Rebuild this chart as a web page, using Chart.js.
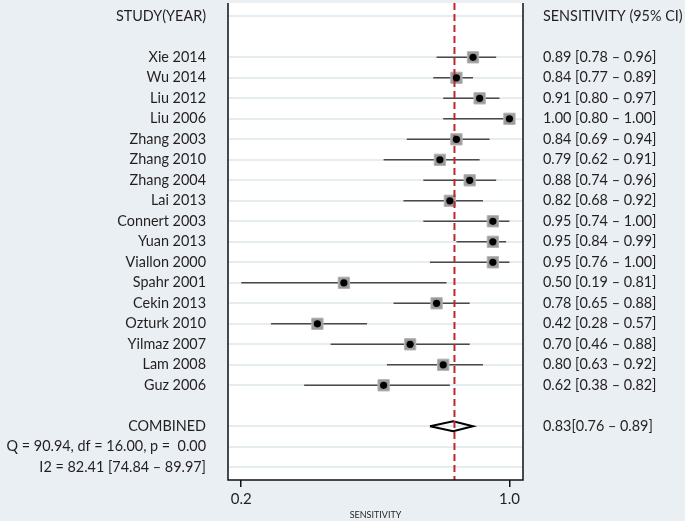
<!DOCTYPE html>
<html>
<head>
<meta charset="utf-8">
<script src="https://cdn.jsdelivr.net/npm/chart.js@4.4.0/dist/chart.umd.min.js"></script>
<style>
  html, body { margin: 0; padding: 0; background: #e9eff2; }
  #wrap { width: 685px; height: 521px; }
</style>
</head>
<body>
<div id="wrap"><canvas id="forest" width="685" height="521"></canvas></div>
<script>
// study data
const studies = ['Xie 2014', 'Wu 2014', 'Liu 2012', 'Liu 2006', 'Zhang 2003', 'Zhang 2010', 'Zhang 2004',
  'Lai 2013', 'Connert 2003', 'Yuan 2013', 'Viallon 2000', 'Spahr 2001', 'Cekin 2013', 'Ozturk 2010',
  'Yilmaz 2007', 'Lam 2008', 'Guz 2006'];
const sens = [0.89, 0.84, 0.91, 1.00, 0.84, 0.79, 0.88, 0.82, 0.95, 0.95, 0.95, 0.50, 0.78, 0.42, 0.70, 0.80, 0.62];
const lower = [0.78, 0.77, 0.80, 0.80, 0.69, 0.62, 0.74, 0.68, 0.74, 0.84, 0.76, 0.19, 0.65, 0.28, 0.46, 0.63, 0.38];
const upper = [0.96, 0.89, 0.97, 1.00, 0.94, 0.91, 0.96, 0.92, 1.00, 0.99, 1.00, 0.81, 0.88, 0.57, 0.88, 0.92, 0.82];

const combined = { est: 0.83, lo: 0.76, hi: 0.89, line: 0.834 };
const statsText = ['Q = 90.94, df = 16.00, p =  0.00', 'I2 = 82.41 [74.84 \u2013 89.97]'];
const tickValues = [0.19, 1.0];
const tickLabels = ['0.2', '1.0'];

// row positions (index units)
const headerRow = -2;
const combinedRow = 18;
const gridRows = [headerRow, ...studies.map((s, i) => i), combinedRow, 19, 20];

const FONT = 'Lato, "Open Sans", sans-serif';
const TEXT = '#231f20';

const fmt = v => v.toFixed(2);

const ciSets = studies.map((s, i) => ({
  type: 'line',
  data: [{ x: lower[i], y: i }, { x: upper[i], y: i }],
  borderColor: '#4a4a4a',
  borderWidth: 1.5,
  pointRadius: 0,
  order: 5
}));

const dh = 0.24;
const diamond = {
  type: 'line',
  data: [
    { x: combined.lo, y: combinedRow }, { x: combined.est, y: combinedRow - dh },
    { x: combined.hi, y: combinedRow }, { x: combined.est, y: combinedRow + dh },
    { x: combined.lo, y: combinedRow }
  ],
  borderColor: '#000',
  borderWidth: 2,
  backgroundColor: '#fff',
  fill: false,
  pointRadius: 0,
  tension: 0,
  order: 2
};

const refLine = {
  type: 'line',
  data: [{ x: combined.line, y: -2.65 }, { x: combined.line, y: 20.62 }],
  borderColor: '#c0272d',
  borderWidth: 2,
  borderDash: [7, 4],
  pointRadius: 0,
  order: 1
};

const boxes = {
  type: 'scatter',
  data: sens.map((v, i) => ({ x: v, y: i })),
  pointStyle: 'rect',
  pointRadius: 8,
  backgroundColor: '#9a9a9a',
  borderColor: '#b5b5b5',
  borderWidth: 1,
  order: 3
};

const dots = {
  type: 'scatter',
  data: sens.map((v, i) => ({ x: v, y: i })),
  pointStyle: 'circle',
  pointRadius: 3.6,
  backgroundColor: '#000',
  borderWidth: 0,
  order: 0
};

const panelPlugin = {
  id: 'panel',
  beforeDraw(chart) {
    const { ctx, chartArea: a } = chart;
    ctx.save();
    ctx.fillStyle = '#fff';
    ctx.fillRect(a.left, a.top, a.right - a.left, a.bottom - a.top);
    ctx.restore();
  },
  afterDraw(chart) {
    const { ctx, chartArea: a, scales } = chart;
    const y = scales.y;
    ctx.save();
    ctx.strokeStyle = '#111';
    ctx.lineWidth = 1.5;
    ctx.beginPath();
    ctx.moveTo(a.left, a.top);
    ctx.lineTo(a.left, a.bottom);
    ctx.lineTo(a.right, a.bottom);
    ctx.lineTo(a.right, a.top);
    ctx.stroke();

    ctx.fillStyle = TEXT;
    ctx.font = '14.4px ' + FONT;
    ctx.textBaseline = 'middle';

    // left column
    ctx.textAlign = 'right';
    const lx = a.left - 22;
    ctx.fillText('STUDY(YEAR)', lx, y.getPixelForValue(headerRow));
    studies.forEach((s, i) => ctx.fillText(s, lx, y.getPixelForValue(i)));
    ctx.fillText('COMBINED', lx, y.getPixelForValue(combinedRow));
    statsText.forEach((t, k) => ctx.fillText(t, lx, y.getPixelForValue(combinedRow + 1 + k)));

    // right column
    ctx.textAlign = 'left';
    const rx = a.right + 20;
    ctx.fillText('SENSITIVITY (95% CI)', rx, y.getPixelForValue(headerRow));
    studies.forEach((s, i) =>
      ctx.fillText(fmt(sens[i]) + ' [' + fmt(lower[i]) + ' \u2013 ' + fmt(upper[i]) + ']', rx, y.getPixelForValue(i)));
    ctx.fillText(fmt(combined.est) + '[' + fmt(combined.lo) + ' \u2013 ' + fmt(combined.hi) + ']',
      rx, y.getPixelForValue(combinedRow));
    ctx.restore();
  }
};

new Chart(document.getElementById('forest'), {
  data: { datasets: [refLine, dots, diamond, boxes, ...ciSets] },
  options: {
    responsive: false,
    animation: false,
    events: [],
    layout: { autoPadding: false, padding: { left: 228, right: 162, top: 3, bottom: 0 } },
    plugins: { legend: { display: false }, tooltip: { enabled: false } },
    scales: {
      x: {
        type: 'linear',
        position: 'bottom',
        min: 0.150,
        max: 1.041,
        afterBuildTicks: s => { s.ticks = tickValues.map(v => ({ value: v })); },
        afterFit: s => { s.height = 41; },
        ticks: {
          autoSkip: false,
          maxRotation: 0,
          padding: 3,
          color: TEXT,
          font: { family: FONT, size: 15 },
          callback: (v, i) => tickLabels[i]
        },
        grid: { drawOnChartArea: false, drawTicks: true, tickLength: 7, color: '#111', lineWidth: 1.5 },
        border: { display: false },
        title: {
          display: true,
          text: 'SENSITIVITY',
          color: TEXT,
          font: { family: FONT, size: 9 },
          padding: { top: 0, bottom: 1 }
        }
      },
      y: {
        type: 'linear',
        position: 'left',
        reverse: true,
        min: -2.65,
        max: 20.62,
        afterBuildTicks: s => { s.ticks = gridRows.map(v => ({ value: v })); },
        afterFit: s => { s.width = 0; },
        ticks: { display: false },
        grid: { drawTicks: false, color: '#e6edf0', lineWidth: 2 },
        border: { display: false }
      }
    }
  },
  plugins: [panelPlugin]
});
</script>
</body>
</html>
